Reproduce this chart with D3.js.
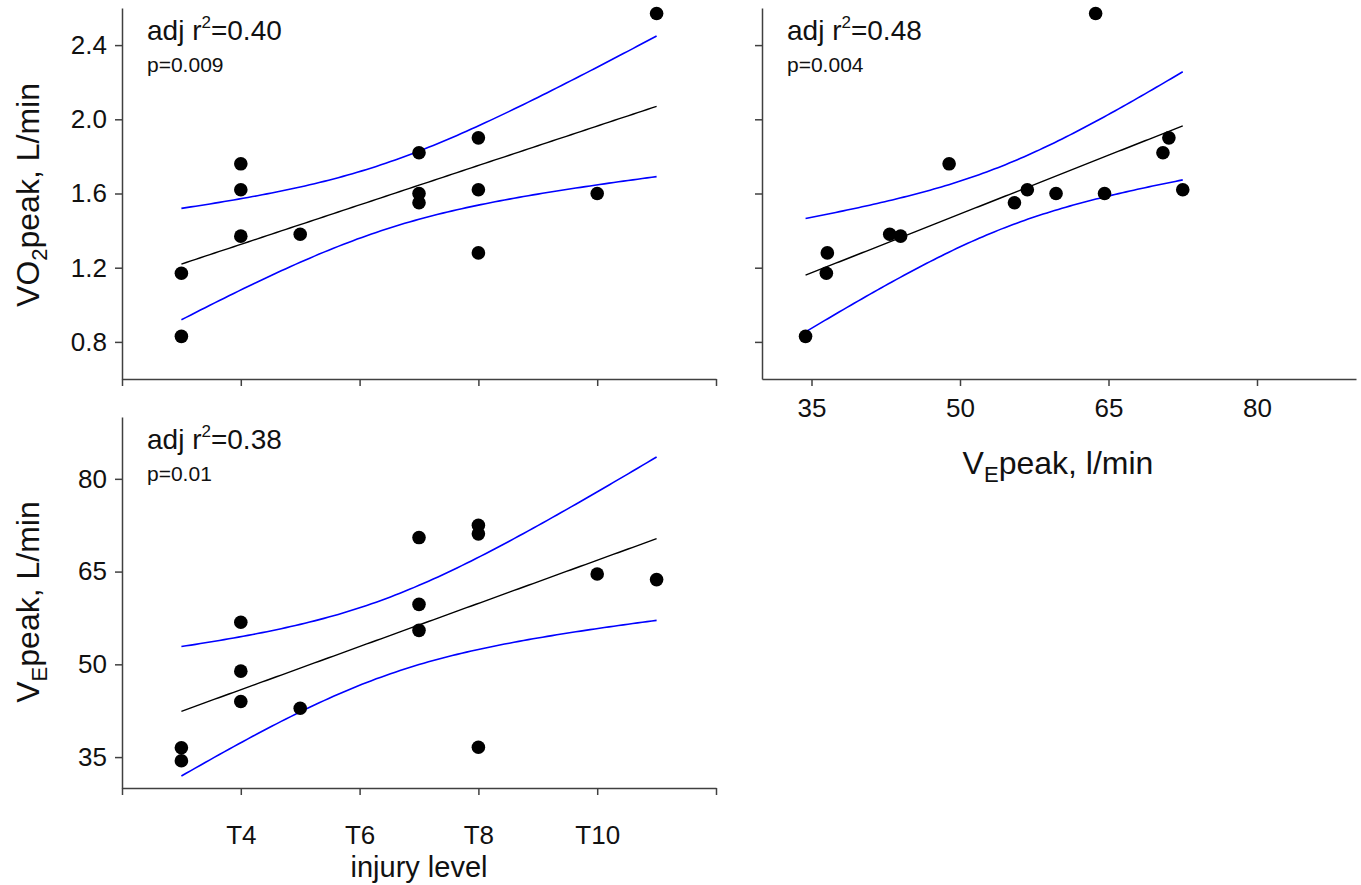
<!DOCTYPE html>
<html>
<head>
<meta charset="utf-8">
<script src="https://cdn.jsdelivr.net/npm/d3@7"></script>
<style>
  body { margin: 0; background: #fff; }
  text { font-family: "Liberation Sans", Arial, sans-serif; fill: #111; }
  .axis path, .axis line { stroke: #404040; stroke-width: 1.5; }
  .axis text { font-size: 26px; fill: #111; }
</style>
</head>
<body>
<div id="chart"></div>
<script>
// one row per subject
var level = [3, 3, 4, 4, 4, 5, 7, 7, 7, 8, 8, 8, 10, 11];
var vo2   = [1.17, 0.83, 1.76, 1.62, 1.37, 1.38, 1.82, 1.60, 1.55, 1.90, 1.62, 1.28, 1.60, 2.57];
var ve    = [36.5, 34.4, 48.9, 56.8, 44.0, 42.9, 70.5, 59.7, 55.5, 71.1, 72.5, 36.6, 64.6, 63.7];

var levelTicks = [2, 4, 6, 8, 10, 12];
var levelLabels = ["", "T4", "T6", "T8", "T10", ""];
var vo2Ticks = [0.8, 1.2, 1.6, 2.0, 2.4];
var veTicks = [35, 50, 65, 80];

var r2Labels = ["0.40", "0.48", "0.38"];
var pLabels = ["p=0.009", "p=0.004", "p=0.01"];

var width = 1361, height = 885;
var pw = 594, ph = 371;
var tCrit = 2.179; // t(0.975, 12)

var svg = d3.select("#chart").append("svg").attr("width", width).attr("height", height);

function fit(xs, ys) {
  var n = xs.length;
  var mx = d3.mean(xs), my = d3.mean(ys);
  var sxx = d3.sum(xs, d => (d - mx) * (d - mx));
  var sxy = d3.sum(xs, (d, i) => (d - mx) * (ys[i] - my));
  var b = sxy / sxx, a = my - b * mx;
  var sse = d3.sum(xs, (d, i) => Math.pow(ys[i] - (a + b * d), 2));
  var s = Math.sqrt(sse / (n - 2));
  var lo = d3.min(xs), hi = d3.max(xs);
  return d3.range(0, 101).map(function(k) {
    var x = lo + (hi - lo) * k / 100;
    var yh = a + b * x;
    var se = s * Math.sqrt(1 / n + (x - mx) * (x - mx) / sxx);
    return { x: x, y: yh, up: yh + tCrit * se, dn: yh - tCrit * se };
  });
}

function panel(o) {
  var g = svg.append("g").attr("transform", "translate(" + o.left + "," + o.top + ")");
  var x = d3.scaleLinear().domain(o.xDomain).range([0, pw]);
  var y = d3.scaleLinear().domain(o.yDomain).range([ph, 0]);

  var xa = d3.axisBottom(x).tickValues(o.xTicks).tickSize(7).tickSizeOuter(0).tickPadding(o.xPad)
    .tickFormat(o.xFormat);
  var ya = d3.axisLeft(y).tickValues(o.yTicks).tickSize(7).tickSizeOuter(0).tickPadding(8)
    .tickFormat(o.yFormat);
  g.append("g").attr("class", "axis").attr("transform", "translate(0," + ph + ")").call(xa);
  g.append("g").attr("class", "axis").call(ya);

  var pts = fit(o.xs, o.ys);
  var line = key => d3.line().x(d => x(d.x)).y(d => y(d[key]));
  g.append("path").datum(pts).attr("d", line("up")).attr("fill", "none").attr("stroke", "#0000ff").attr("stroke-width", 1.6);
  g.append("path").datum(pts).attr("d", line("dn")).attr("fill", "none").attr("stroke", "#0000ff").attr("stroke-width", 1.6);
  g.append("path").datum(pts).attr("d", line("y")).attr("fill", "none").attr("stroke", "#000").attr("stroke-width", 1.4);

  g.selectAll(".dot").data(o.xs).enter().append("circle")
    .attr("cx", d => x(d)).attr("cy", (d, i) => y(o.ys[i])).attr("r", 6.8).attr("fill", "#000");

  var t1 = g.append("text").attr("x", 25).attr("y", 32).style("font-size", "28px");
  t1.append("tspan").text("adj r");
  t1.append("tspan").attr("dy", -12).style("font-size", "17px").text("2");
  t1.append("tspan").attr("dy", 12).text("=" + o.r2);
  g.append("text").attr("x", 25).attr("y", 64).style("font-size", "21px").text(o.p);
  return g;
}

panel({ left: 122, top: 8, xDomain: [2, 12], yDomain: [0.6, 2.6], xs: level, ys: vo2,
  xTicks: levelTicks, yTicks: vo2Ticks, xFormat: () => "", yFormat: d3.format(".1f"), xPad: 10,
  r2: r2Labels[0], p: pLabels[0] });
panel({ left: 762, top: 8, xDomain: [30, 90], yDomain: [0.6, 2.6], xs: ve, ys: vo2,
  xTicks: veTicks, yTicks: vo2Ticks, xFormat: d3.format("d"), yFormat: () => "", xPad: 13,
  r2: r2Labels[1], p: pLabels[1] });
panel({ left: 122, top: 417, xDomain: [2, 12], yDomain: [30, 90], xs: level, ys: ve,
  xTicks: levelTicks, yTicks: veTicks, xFormat: (d, i) => levelLabels[i], yFormat: d3.format("d"), xPad: 31,
  r2: r2Labels[2], p: pLabels[2] });

// axis titles
var yl1 = svg.append("text").attr("transform", "translate(39,195) rotate(-90)")
  .attr("text-anchor", "middle").style("font-size", "32px");
yl1.append("tspan").text("VO");
yl1.append("tspan").attr("dy", 8).style("font-size", "22px").text("2");
yl1.append("tspan").attr("dy", -8).text("peak,  L/min");

var yl3 = svg.append("text").attr("transform", "translate(39,602) rotate(-90)")
  .attr("text-anchor", "middle").style("font-size", "32px");
yl3.append("tspan").text("V");
yl3.append("tspan").attr("dy", 8).style("font-size", "22px").text("E");
yl3.append("tspan").attr("dy", -8).text("peak,  L/min");

var xl2 = svg.append("text").attr("x", 1058).attr("y", 474)
  .attr("text-anchor", "middle").style("font-size", "32px");
xl2.append("tspan").text("V");
xl2.append("tspan").attr("dy", 8).style("font-size", "22px").text("E");
xl2.append("tspan").attr("dy", -8).text("peak, l/min");

svg.append("text").attr("x", 419).attr("y", 877).attr("text-anchor", "middle")
  .style("font-size", "29px").text("injury level");
</script>
</body>
</html>
